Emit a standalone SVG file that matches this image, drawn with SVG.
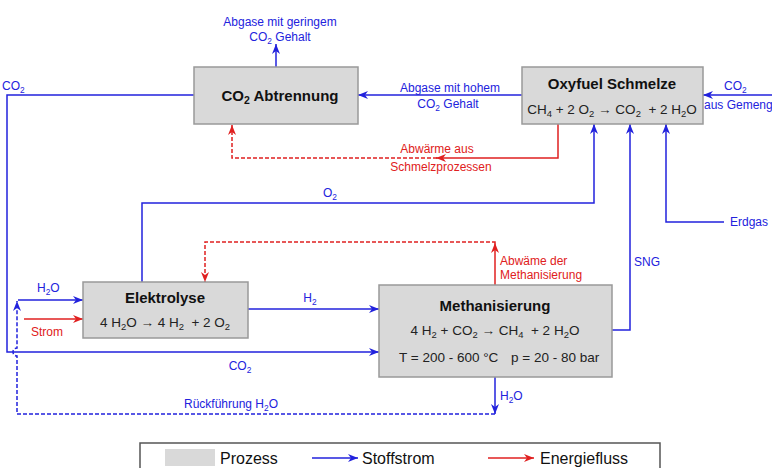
<svg xmlns="http://www.w3.org/2000/svg" width="772" height="468" viewBox="0 0 772 468">
<defs>
<marker id="ab" markerUnits="userSpaceOnUse" markerWidth="10" markerHeight="8" refX="10" refY="4" orient="auto"><path d="M0,0 L10,4 L0,8 L3,4 Z" fill="#2222dd"/></marker>
<marker id="ar" markerUnits="userSpaceOnUse" markerWidth="10" markerHeight="8" refX="10" refY="4" orient="auto"><path d="M0,0 L10,4 L0,8 L3,4 Z" fill="#e02020"/></marker>
<style>
text{font-family:"Liberation Sans",Arial,sans-serif}
.box{fill:#d9d9d9;stroke:#999;stroke-width:1.5}
.t{font-size:15px;font-weight:bold;fill:#111;text-anchor:middle}
.eq{font-size:13.5px;fill:#222;text-anchor:middle}
.eqs{font-size:13.5px;fill:#222;text-anchor:start}
.lb{font-size:12px;fill:#2222dd}
.lr{font-size:12px;fill:#e02020}
.b{fill:none;stroke:#2222dd;stroke-width:1.5}
.r{fill:none;stroke:#e02020;stroke-width:1.5}
.d{stroke-dasharray:4,2}
.s{font-size:70%}
.lg{font-size:16px;fill:#111}
</style>
</defs>
<g id="connectors">
<path class="b" d="M276,67 V44" marker-end="url(#ab)"/>
<path class="b" d="M522,95 H358" marker-end="url(#ab)"/>
<path class="b" d="M772,95 H703" marker-end="url(#ab)"/>
<path class="r" d="M558,124 V158 H436" marker-end="url(#ar)"/>
<path class="r d" d="M437,158 H232 V125" marker-end="url(#ar)"/>
<path class="b" d="M142,282 V203 H594 V124" marker-end="url(#ab)"/>
<path class="b" d="M612,330 H630 V124" marker-end="url(#ab)"/>
<path class="b" d="M724,222 H666 V124" marker-end="url(#ab)"/>
<path class="b" d="M194,95 H7 V352 H379" marker-end="url(#ab)"/>
<path class="b" d="M248,309 H379" marker-end="url(#ab)"/>
<path class="b" d="M495,377 V414" marker-end="url(#ab)"/>
<path class="b d" d="M495,414 H17 V356 A4,4 0 0 1 17,348 V301" marker-end="url(#ab)"/>
<path class="b" d="M18,300 H83" marker-end="url(#ab)"/>
<path class="r" d="M24,319 H83" marker-end="url(#ar)"/>
<path class="r" d="M495,285 V243" marker-end="url(#ar)"/>
<path class="r d" d="M495,243 V242 H205 V282" marker-end="url(#ar)"/>
</g>
<g id="labels">
<text class="lb" x="280" y="26" text-anchor="middle">Abgase mit geringem</text>
<text class="lb" x="280" y="41" text-anchor="middle">CO<tspan class="s" dy="3">2</tspan><tspan dy="-3"> Gehalt</tspan></text>
<text class="lb" x="450" y="92" text-anchor="middle">Abgase mit hohem</text>
<text class="lb" x="448" y="108" text-anchor="middle">CO<tspan class="s" dy="3">2</tspan><tspan dy="-3"> Gehalt</tspan></text>
<text class="lb" x="724" y="90">CO<tspan class="s" dy="3">2</tspan></text>
<text class="lb" x="704" y="109">aus Gemenge</text>
<text class="lr" x="437" y="153" text-anchor="middle">Abwärme aus</text>
<text class="lr" x="441" y="171" text-anchor="middle">Schmelzprozessen</text>
<text class="lb" x="330" y="197" text-anchor="middle">O<tspan class="s" dy="3">2</tspan></text>
<text class="lb" x="634" y="266">SNG</text>
<text class="lb" x="730" y="226">Erdgas</text>
<text class="lb" x="2" y="90">CO<tspan class="s" dy="3">2</tspan></text>
<text class="lb" x="240" y="370" text-anchor="middle">CO<tspan class="s" dy="3">2</tspan></text>
<text class="lb" x="231" y="408" text-anchor="middle">Rückführung H<tspan class="s" dy="3">2</tspan><tspan dy="-3">O</tspan></text>
<text class="lb" x="37" y="292">H<tspan class="s" dy="3">2</tspan><tspan dy="-3">O</tspan></text>
<text class="lr" x="31" y="336">Strom</text>
<text class="lb" x="310" y="302" text-anchor="middle">H<tspan class="s" dy="3">2</tspan></text>
<text class="lr" x="500" y="265">Abwäme der</text>
<text class="lr" x="500" y="279">Methanisierung</text>
<text class="lb" x="500" y="400">H<tspan class="s" dy="3">2</tspan><tspan dy="-3">O</tspan></text>
</g>
<g id="co2abtrennung">
<rect class="box" x="194" y="67" width="164" height="57"/>
<text class="t" x="280" y="101">CO<tspan class="s" dy="3">2</tspan><tspan dy="-3"> Abtrennung</tspan></text>
</g>
<g id="oxyfuel">
<rect class="box" x="522" y="67" width="181" height="57"/>
<text class="t" x="612" y="89">Oxyfuel Schmelze</text>
<text class="eq" x="612" y="114">CH<tspan class="s" dy="3">4</tspan><tspan dy="-3"> + 2 O</tspan><tspan class="s" dy="3">2</tspan><tspan dy="-3"> → CO</tspan><tspan class="s" dy="3">2</tspan><tspan dy="-3">&#160; + 2 H</tspan><tspan class="s" dy="3">2</tspan><tspan dy="-3">O</tspan></text>
</g>
<g id="elektrolyse">
<rect class="box" x="83" y="282" width="165" height="56"/>
<text class="t" x="165" y="303">Elektrolyse</text>
<text class="eq" x="165" y="327">4 H<tspan class="s" dy="3">2</tspan><tspan dy="-3">O → 4 H</tspan><tspan class="s" dy="3">2</tspan><tspan dy="-3">&#160; + 2 O</tspan><tspan class="s" dy="3">2</tspan></text>
</g>
<g id="methanisierung">
<rect class="box" x="379" y="285" width="233" height="92"/>
<text class="t" x="495" y="311">Methanisierung</text>
<text class="eq" x="495" y="335">4 H<tspan class="s" dy="3">2</tspan><tspan dy="-3"> + CO</tspan><tspan class="s" dy="3">2</tspan><tspan dy="-3"> → CH</tspan><tspan class="s" dy="3">4</tspan><tspan dy="-3">&#160; + 2 H</tspan><tspan class="s" dy="3">2</tspan><tspan dy="-3">O</tspan></text>
<text class="eqs" x="399" y="362">T = 200 - 600 °C</text>
<text class="eqs" x="511" y="362">p = 20 - 80 bar</text>
</g>
<g id="legend">
<rect x="140" y="443" width="520" height="40" fill="#fff" stroke="#555" stroke-width="1.5"/>
<rect x="165" y="449" width="50" height="17" fill="#d9d9d9"/>
<text class="lg" x="220" y="464">Prozess</text>
<path class="b" d="M312,458 H358" marker-end="url(#ab)"/>
<text class="lg" x="362" y="464">Stoffstrom</text>
<path class="r" d="M488,458 H534" marker-end="url(#ar)"/>
<text class="lg" x="540" y="464">Energiefluss</text>
</g>
</svg>
